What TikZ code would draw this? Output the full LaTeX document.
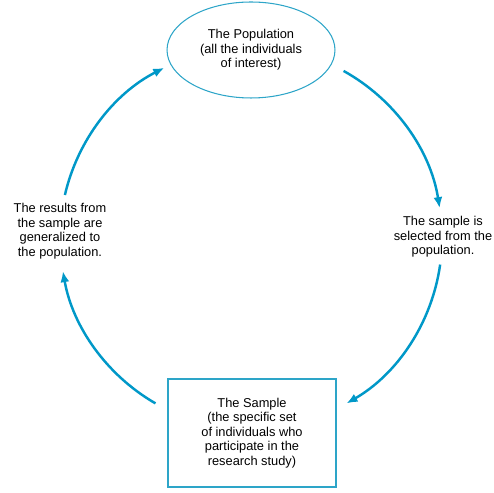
\documentclass[tikz,border=0pt]{standalone}
\usepackage{fontspec}
\setmainfont{Liberation Sans}
\usepackage{xcolor}
\usetikzlibrary{arrows.meta,positioning,shapes.geometric}

\definecolor{flowblue}{RGB}{0,152,200}
\definecolor{edgeblue}{RGB}{45,165,200}

\begin{document}
\begin{tikzpicture}[
  x=0.02cm, y=0.02cm,
  every node/.style={font=\fontsize{7.3}{8.3}\selectfont, align=center},
  population/.style={ellipse, draw=edgeblue, line width=0.6pt,
                     minimum width=3.36cm, minimum height=1.92cm, inner sep=0pt},
  sampbox/.style={draw=edgeblue, line width=0.6pt,
                  minimum width=3.36cm, minimum height=2.16cm, inner sep=0pt},
  caption/.style={inner sep=0pt},
  arrow/.style={-{Latex[length=2.2mm,width=1.8mm]}, line width=1.4pt, draw=flowblue}
]
  \useasboundingbox (0,0) rectangle (494,493);

  \coordinate (ctr) at (251,255);

  \node[population] (pop) at (251,443)
    {The Population\\(all the individuals\\of interest)};
  \node[sampbox] (sample) at (252,60)
    {The Sample\\(the specific set\\of individuals who\\participate in the\\research study)};
  \node[caption] (select) at (443,256)
    {The sample is\\selected from the\\population.};
  \node[caption] (general) at (60,262)
    {The results from\\the sample are\\generalized to\\the population.};

  \draw[arrow] ([shift={(61:191)}]ctr) arc[start angle=61, end angle=9, radius=191];
  \draw[arrow] ([shift={(-8:191)}]ctr) arc[start angle=-8, end angle=-60, radius=191];
  \draw[arrow] ([shift={(-120:191)}]ctr) arc[start angle=-120, end angle=-170, radius=191];
  \draw[arrow] ([shift={(167:191)}]ctr) arc[start angle=167, end angle=117, radius=191];
\end{tikzpicture}
\end{document}
